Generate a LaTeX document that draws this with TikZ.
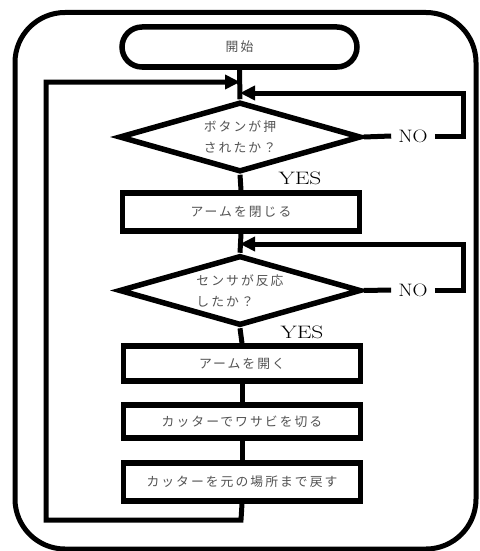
\documentclass[tikz,border=0pt]{standalone}
\usepackage{fontspec}
\usepackage{graphicx}
\newfontfamily\jpfont[LetterSpace=16]{Noto Sans CJK JP}
\usetikzlibrary{shapes.geometric,arrows.meta}

\tikzset{
  frame/.style={line width=5pt, rounded corners=50pt},
  jptext/.style={font=\jpfont\fontsize{12.8}{15}\selectfont, text=black!68},
  terminal/.style={draw, jptext, line width=5.5pt, rounded corners=20pt, minimum width=235pt,
    minimum height=40pt, inner sep=0pt},
  process/.style={draw, jptext, line width=5.5pt, minimum width=237pt, inner sep=0pt},
  decision/.style={draw, diamond, aspect=3.5, line width=5.5pt, minimum width=242pt,
    minimum height=70pt, inner sep=0pt, align=left, jptext,
    font=\jpfont\fontsize{12.8}{21}\selectfont},
  flow/.style={line width=5pt},
  flowarrow/.style={line width=5pt, -{Triangle[length=15pt,width=14pt]}},
  answer/.style={inner sep=1pt, font=\fontsize{18}{20}\selectfont}
}

\begin{document}
\begin{tikzpicture}[x=1pt,y=-1pt]
\useasboundingbox (0,0) rectangle (479,551);

% outer frame
\draw[frame] (15,12.5) rectangle (476,549);

% steps
\node[terminal] (start) at (239.5,47) {開始};
\node[decision] (d1) at (240,137) {ボタンが押\\されたか？};
\node[process, minimum height=38pt] (b1) at (241,212) {アームを閉じる};
\node[decision] (d2) at (240,290.5) {センサが反応\\したか？};
\node[process, minimum height=35pt] (b2) at (242,363.5) {アームを開く};
\node[process, minimum height=33pt] (b3) at (242,421.5) {カッターでワサビを切る};
\node[process, minimum height=38pt] (b4) at (242,482) {カッターを元の場所まで戻す};

% answer labels
\node[answer] (no1) at (413,136) {\scalebox{1.15}[1]{NO}};
\node[answer] (yes1) at (300,178) {\scalebox{1.3}[1]{YES}};
\node[answer] (no2) at (413,290) {\scalebox{1.15}[1]{NO}};
\node[answer] (yes2) at (302,332) {\scalebox{1.3}[1]{YES}};

% junction points
\coordinate (j1) at (240,82);
\coordinate (j1r) at (240,93);
\coordinate (j2) at (240,244);
\coordinate (r1) at (463,93);
\coordinate (r2) at (463,244);
\coordinate (bl) at (46,520);
\coordinate (tl) at (46,82);
\coordinate (bm) at (241,520);

% main line
\draw[flow] (start.south) -- (d1.north);
\draw[flow] (d1.south) -- (b1.north);
\draw[flow] (b1.south) -- (d2.north);
\draw[flow] (d2.south) -- (b2.north);
\draw[flow] (b2.south) -- (b3.north);
\draw[flow] (b3.south) -- (b4.north);

% NO branches
\draw[flow] (d1.east) -- ([xshift=-6pt]no1.west);
\draw[flowarrow] ([xshift=6pt]no1.east) -| (r1) -- (j1r);
\draw[flow] (d2.east) -- ([xshift=-6pt]no2.west);
\draw[flowarrow] ([xshift=6pt]no2.east) -| (r2) -- (j2);

% return loop
\draw[flowarrow] (b4.south) -- (bm) -- (bl) -- (tl) -- (j1);
\end{tikzpicture}
\end{document}
